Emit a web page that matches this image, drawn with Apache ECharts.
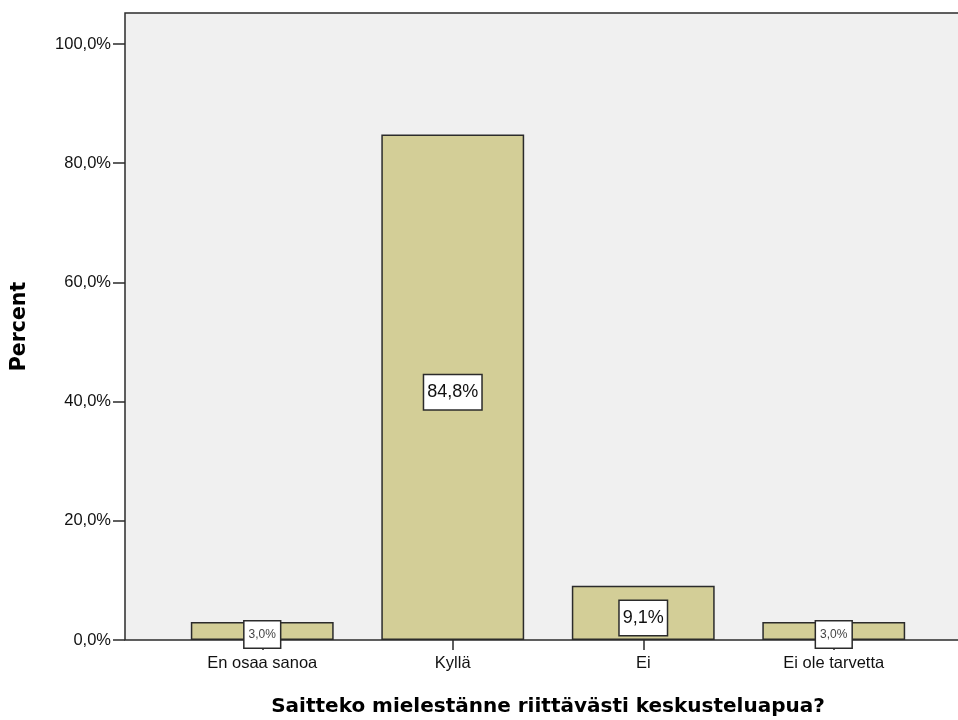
<!DOCTYPE html>
<html>
<head>
<meta charset="utf-8">
<script src="https://cdn.jsdelivr.net/npm/echarts@6/dist/echarts.min.js"></script>
<style>
  html, body { margin: 0; padding: 0; background: #fff; }
  #chart { width: 958px; height: 720px; }
</style>
</head>
<body>
<div id="chart"></div>
<script>
var categories = ['En osaa sanoa', 'Kyllä', 'Ei', 'Ei ole tarvetta'];
var percents = [3.0, 84.8, 9.1, 3.0];
var yTicks = [0, 20, 40, 60, 80, 100];

var barFill = '#d3ce97',
    lineCol = '#2b2b2b',
    plotBg = '#f0f0f0';

function fmt(v, d) {
    return v.toFixed(d).replace('.', ',') + '%';
}

// small bars get the small SPSS label box
var barData = percents.map(function (v) {
    var small = v < 5;
    return {
        value: v,
        label: small ? {
            fontSize: 12,
            padding: [4, 4, 10, 4],
            offset: [0, 3.5],
            color: '#444'
        } : {
            fontSize: 18,
            padding: [8, 3, 8, 3],
            offset: [0, 5]
        }
    };
});

var chart = echarts.init(document.getElementById('chart'));
var option = {
    animation: false,
    textStyle: { fontFamily: 'Liberation Sans, Arial, sans-serif' },
    grid: [
        {   // plot frame + y axis, runs off the right edge like the original
            left: 125, top: 13, width: 900, bottom: 80,
            outerBoundsMode: 'none',
            show: true, backgroundColor: plotBg,
            borderColor: lineCol, borderWidth: 1.5
        },
        {   // category band for the bars
            left: 167, top: 13, right: 29, bottom: 80,
            outerBoundsMode: 'none'
        }
    ],
    xAxis: [
        { gridIndex: 0, type: 'value', show: false, min: 0, max: 1 },
        {
            gridIndex: 1, type: 'category', data: categories,
            axisLine: { show: false },
            axisTick: { show: true, alignWithLabel: true, length: 10,
                        lineStyle: { color: lineCol, width: 1.5 } },
            axisLabel: { color: '#111', fontSize: 16.5, margin: 15 },
            name: 'Saitteko mielestänne riittävästi keskusteluapua?',
            nameLocation: 'middle', nameGap: 57,
            nameTextStyle: { fontFamily: 'DejaVu Sans', fontWeight: 'bold',
                             fontSize: 20, color: '#000' }
        }
    ],
    yAxis: [
        {
            gridIndex: 0, type: 'value', min: 0, max: 105.2, interval: 20,
            axisLine: { show: false },
            axisTick: { show: true, length: 12,
                        lineStyle: { color: lineCol, width: 1.5 } },
            splitLine: { show: false },
            axisLabel: {
                color: '#111', fontSize: 16.5, margin: 14,
                showMaxLabel: false,
                formatter: function (v) {
                    return yTicks.indexOf(v) >= 0 ? fmt(v, 1) : '';
                }
            },
            name: 'Percent', nameLocation: 'middle', nameGap: 95, nameRotate: 90,
            nameTextStyle: { fontFamily: 'DejaVu Sans', fontWeight: 'bold',
                             fontSize: 20.5, color: '#000' }
        },
        { gridIndex: 1, type: 'value', min: 0, max: 105.2, show: false }
    ],
    series: [
        {
            type: 'bar', xAxisIndex: 1, yAxisIndex: 1,
            data: barData, barWidth: '75%',
            itemStyle: { color: barFill, borderColor: lineCol, borderWidth: 1.5 },
            label: {
                show: true, position: 'inside',
                formatter: function (p) { return fmt(p.value, 1); },
                color: '#111',
                backgroundColor: '#fff',
                borderColor: lineCol, borderWidth: 1.5
            }
        }
    ]
};
chart.setOption(option);
</script>
</body>
</html>
